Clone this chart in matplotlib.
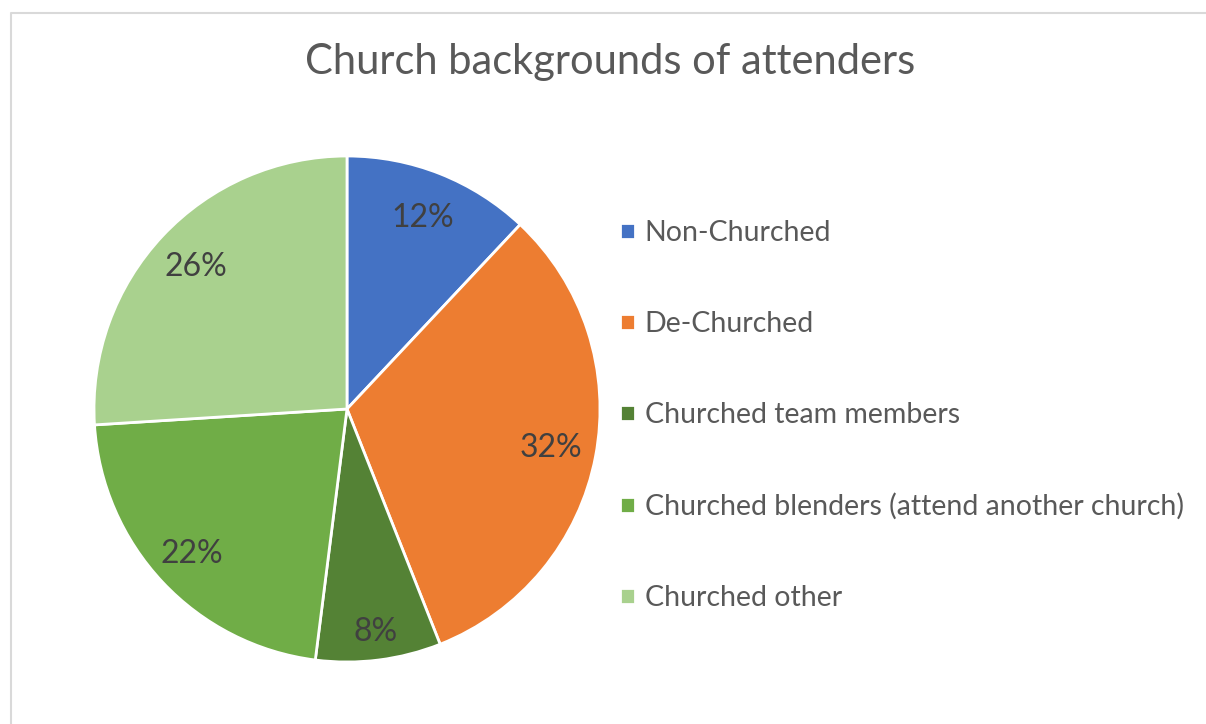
import matplotlib.pyplot as plt
import numpy as np
from matplotlib.lines import Line2D

labels = ['Non-Churched', 'De-Churched', 'Churched team members',
          'Churched blenders (attend another church)', 'Churched other']
values = [12, 32, 8, 22, 26]
colors = ['#4472C4', '#ED7D31', '#548235', '#70AD47', '#A9D18E']

plt.rcParams['font.family'] = ['Lato', 'DejaVu Sans']
W, H = 1206, 724
fig = plt.figure(figsize=(W / 100, H / 100), dpi=100)

# light frame, only left and top edges are in the picture
fy = 1 - 12.5 / H
fx = 10.5 / W
fig.add_artist(Line2D([fx, fx, 1.0], [0, fy, fy], transform=fig.transFigure,
                      color='#d9d9d9', linewidth=1.5))

fig.text(610 / W, 1 - 62 / H, 'Church backgrounds of attenders', ha='center', va='center',
         fontsize=30, color='#595959')

cx, cy, r = 347, 409, 253
ax = fig.add_axes([(cx - r) / W, (H - cy - r) / H, 2 * r / W, 2 * r / H])
wedges, _ = ax.pie(values, colors=colors, startangle=90, counterclock=False,
                   wedgeprops=dict(edgecolor='white', linewidth=2))
ax.set_xlim(-1, 1)
ax.set_ylim(-1, 1)
ax.set_aspect('equal')
ax.axis('off')

# percent labels
dist = [0.81, 0.82, 0.89, 0.84, 0.82]
start = 0
for v, d in zip(values, dist):
    mid = np.deg2rad(90 - (start + v / 2) / sum(values) * 360)
    ax.text(d * np.cos(mid), d * np.sin(mid), f'{v}%', ha='center', va='center',
            fontsize=23, color='#404040')
    start += v

leg = fig.legend(wedges, labels, loc='upper left', bbox_to_anchor=(609 / W, 1 - 209 / H),
                 frameon=False, fontsize=20.5, labelcolor='#595959', handlelength=0.5,
                 handleheight=0.5, handletextpad=0.35, labelspacing=2.28, borderaxespad=0)

fig.savefig('out.png', dpi=100)
